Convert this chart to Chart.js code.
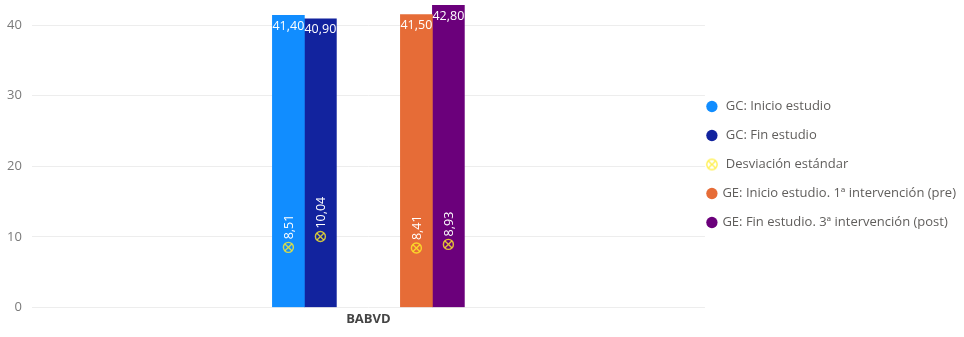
<!DOCTYPE html>
<html lang="es">
<head>
<meta charset="utf-8">
<script src="https://cdn.jsdelivr.net/npm/chart.js@4.4.1/dist/chart.umd.min.js"></script>
<style>
  html, body { margin: 0; padding: 0; background: #fff; overflow: hidden; }
  #wrap { width: 964px; height: 337px; position: relative; }
</style>
</head>
<body>
<div id="wrap"><canvas id="grafico"></canvas></div>
<script>
// ---- DATOS ----
const categorias = ['BABVD'];
const series = [
  ' GC: Inicio estudio',
  ' GC: Fin estudio',
  ' Desviación estándar',
  'GE: Inicio estudio. 1ª intervención (pre)',
  'GE: Fin estudio. 3ª intervención (post)'
];
const gcInicio = [41.40];
const gcFin = [40.90];
const geInicio = [41.50];
const geFin = [42.80];
// desviación estándar de cada serie
const gcInicioSd = [8.51];
const gcFinSd = [10.04];
const geInicioSd = [8.41];
const geFinSd = [8.93];
const ticksY = [0, 10, 20, 30, 40];

// ---- ESTILO ----
const FUENTE = '"Open Sans", "Noto Sans", sans-serif';
const colores = ['#118DFF', '#12239E', '#E66C37', '#6B007B'];
const colorSd = 'rgba(255, 236, 40, 0.8)';

function fmt(v){ return v.toFixed(2).replace('.', ','); }

function marcaSd(ctx, x, y, r){
  ctx.save();
  ctx.strokeStyle = colorSd;
  ctx.lineWidth = 1.4;
  ctx.beginPath(); ctx.arc(x, y, r, 0, Math.PI * 2); ctx.stroke();
  const d = r * 0.68;
  ctx.beginPath();
  ctx.moveTo(x - d, y - d); ctx.lineTo(x + d, y + d);
  ctx.moveTo(x + d, y - d); ctx.lineTo(x - d, y + d);
  ctx.stroke();
  ctx.restore();
}

// icono de la leyenda para la desviación
const iconoSd = document.createElement('canvas');
iconoSd.width = 14; iconoSd.height = 14;
marcaSd(iconoSd.getContext('2d'), 7, 7, 5.2);

// ---- PLUGINS ----
const etiquetasValor = {
  id: 'etiquetasValor',
  afterDatasetsDraw(chart){
    const ctx = chart.ctx;
    const ejeY = chart.scales.y;
    chart.data.datasets.forEach((ds, i) => {
      if(!ds.sd) return;
      const meta = chart.getDatasetMeta(i);
      meta.data.forEach((bar, j) => {
        ctx.save();
        ctx.fillStyle = '#fff';
        ctx.font = '12.5px ' + FUENTE;
        ctx.textAlign = 'center';
        ctx.textBaseline = 'middle';
        ctx.fillText(fmt(ds.data[j]), bar.x, bar.y + 11);
        // marca y texto de la desviación
        const sy = ejeY.getPixelForValue(ds.sd[j]);
        marcaSd(ctx, bar.x, sy, 5);
        ctx.translate(bar.x + 1, sy - 8);
        ctx.rotate(-Math.PI / 2);
        ctx.textAlign = 'left';
        ctx.fillText(fmt(ds.sd[j]), 0, 0);
        ctx.restore();
      });
    });
  }
};

// la leyenda queda pegada al área del gráfico
const moverLeyenda = {
  id: 'moverLeyenda',
  afterLayout(chart){
    const lg = chart.legend;
    if(!lg) return;
    lg.left -= 13; lg.right -= 13;
    lg.top -= 3; lg.bottom -= 3;
  }
};

// ---- GRÁFICO ----
const vacio = categorias.map(() => null);
const datasets = [
  { label: series[0], data: gcInicio, sd: gcInicioSd, backgroundColor: colores[0] },
  { label: series[1], data: gcFin, sd: gcFinSd, backgroundColor: colores[1] },
  { label: series[2], data: vacio, backgroundColor: colorSd },
  { label: '', data: vacio, backgroundColor: 'transparent', spacer: true },
  { label: series[3], data: geInicio, sd: geInicioSd, backgroundColor: colores[2] },
  { label: series[4], data: geFin, sd: geFinSd, backgroundColor: colores[3] }
];

new Chart(document.getElementById('grafico'), {
  type: 'bar',
  data: { labels: categorias, datasets },
  options: {
    responsive: true,
    maintainAspectRatio: false,
    animation: false,
    barThickness: 32,
    layout: { padding: { left: -3, top: 4, right: -15, bottom: 6 } },
    scales: {
      x: {
        grid: { display: false, drawTicks: false },
        border: { display: false },
        ticks: { color: '#444', padding: 4, font: { family: FUENTE, size: 13, weight: 'bold' } },
        afterFit: axis => { axis.paddingLeft = 0; axis.paddingRight = 0; }
      },
      y: {
        min: 0,
        max: 43,
        afterBuildTicks: axis => { axis.ticks = ticksY.map(v => ({ value: v })); },
        afterFit: axis => { axis.paddingTop = 0; axis.paddingBottom = 0; },
        grid: { color: '#ededed', drawTicks: false },
        border: { display: false },
        ticks: { color: '#7a7a7a', padding: 10, font: { family: FUENTE, size: 13 } }
      }
    },
    plugins: {
      tooltip: { enabled: false },
      legend: {
        position: 'right',
        maxWidth: 340,
        labels: {
          usePointStyle: true,
          boxWidth: 8,
          boxHeight: 8,
          padding: 16,
          color: '#605E5C',
          font: { family: FUENTE, size: 13 },
          filter: (item, data) => !data.datasets[item.datasetIndex].spacer,
          generateLabels(chart){
            const items = Chart.defaults.plugins.legend.labels.generateLabels(chart);
            items.forEach(it => {
              it.pointStyle = it.datasetIndex === 2 ? iconoSd : 'circle';
              it.lineWidth = 0;
            });
            return items;
          }
        }
      }
    }
  },
  plugins: [etiquetasValor, moverLeyenda]
});
</script>
</body>
</html>
